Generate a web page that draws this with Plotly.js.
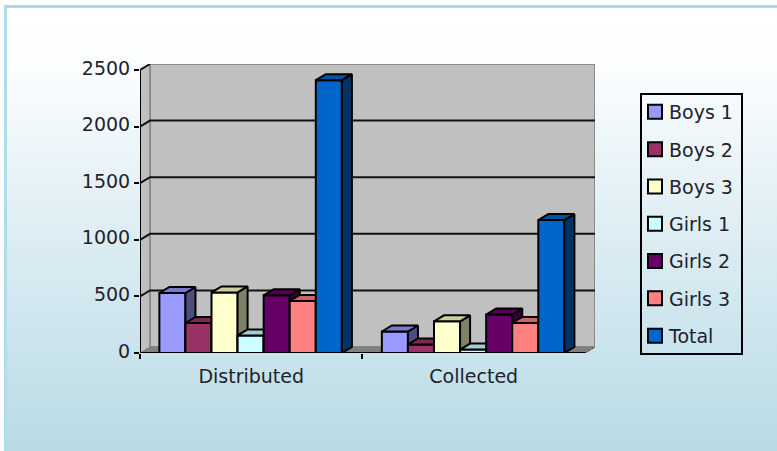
<!DOCTYPE html>
<html><head><meta charset="utf-8">
<script src="https://cdn.plot.ly/plotly-3.0.1.min.js"></script>
<style>
html,body{margin:0;padding:0;background:#fff;width:777px;height:451px;overflow:hidden}
#bg{position:absolute;left:4px;top:5px;width:773px;height:446px;box-sizing:border-box;border-top:3px solid #a8d9e6;border-left:3px solid #b0dde8;
background:linear-gradient(to bottom,#ffffff 0%,#fbfdfe 14%,#dcedf3 52%,#b9dbe6 100%)}
#chart{position:absolute;left:0;top:0;width:777px;height:451px}
</style></head><body>
<div id="bg"></div><div id="chart"></div>
<script>
const categories = ['Distributed','Collected'];
const seriesNames = ['Boys 1','Boys 2','Boys 3','Girls 1','Girls 2','Girls 3','Total'];
const boys1  = [530, 190];
const boys2  = [265, 75];
const boys3  = [535, 280];
const girls1 = [155, 30];
const girls2 = [510, 340];
const girls3 = [460, 265];
const total  = [2410, 1174];
const seriesValues = [boys1,boys2,boys3,girls1,girls2,girls3,total];
const front = ['#9999ff','#993366','#ffffcc','#ccffff','#660066','#ff8080','#0066cc'];
const tops  = ['#7a7acc','#7a2952','#cccca3','#a3cccc','#520052','#cc6666','#0052a3'];
const sides = ['#4d4d80','#4d1a33','#808066','#668080','#330033','#804040','#003366'];
const tickValues = [0,500,1000,1500,2000,2500];

const DX = 0.045, DY = 53, BW = 0.1172, START = -0.413;
const X0 = -0.5, X1 = 1.5, XE = X1 + DX, YE = 2500 + DY;
const pos = categories.map((c,i)=>i);
const traces = [];
function poly(xs,ys,fill,lineColor,lw,extra){
  return Object.assign({type:'scatter',mode:'lines',x:xs,y:ys,fill:fill?'toself':'none',fillcolor:fill||undefined,
    line:{color:lineColor,width:lw},showlegend:false,hoverinfo:'skip',cliponaxis:false},extra||{});
}
// walls and floor
traces.push(poly([X0,X0+DX,X0+DX,X0],[0,DY,YE,2500],'#c0c0c0','#c0c0c0',1));
traces.push(poly([X0+DX,XE,XE,X0+DX,X0+DX],[DY,DY,YE,YE,DY],'#c0c0c0','#8c8c8c',2));
traces.push(poly([X0,X0+DX,XE,X1],[0,DY,DY,0],'#808080','#808080',1));
// gridlines from tick values
tickValues.slice(1).forEach(v=>{
  traces.push(poly(v<2500?[X0,X0+DX,XE]:[X0,X0+DX],v<2500?[v,v+DY,v+DY]:[v,v+DY],null,'#111',2));
});
// axes lines
traces.push(poly([X0,X0],[0,2500],null,'#000',2));
traces.push(poly([X0,X1],[0,0],null,'#000',2));
traces.push(poly([X1,XE],[0,DY],null,'#000',1,{line:{color:'#333',width:1,dash:'2px,2px'}}));

// bars: each series has its own overlaid y axis so later bars paint over earlier faces
seriesNames.forEach((name,s)=>{
  const ya = 'y'+(s+2);
  const vals = seriesValues[s];
  const off = START + s*BW;
  const sx=[],sy=[],tx=[],ty=[];
  pos.forEach((p,i)=>{
    const l=p+off, r=l+BW, v=vals[i];
    sx.push(r,r+DX,r+DX,r,r,null); sy.push(0,DY,v+DY,v,0,null);
    tx.push(l,l+DX,r+DX,r,l,null); ty.push(v,v+DY,v+DY,v,v,null);
  });
  traces.push({type:'bar',name:name,x:pos,y:vals,yaxis:ya,width:BW,offset:off,legendgroup:name,
    marker:{color:front[s],line:{color:'#000',width:2}},hoverinfo:'x+y+name',cliponaxis:false});
  traces.push(poly(sx,sy,sides[s],'#000',2,{yaxis:ya,legendgroup:name}));
  traces.push(poly(tx,ty,tops[s],'#000',2,{yaxis:ya,legendgroup:name}));
});

const textFont = {family:'"DejaVu Sans",sans-serif',size:19,color:'#22222c'};
const layout = {
  width:777,height:451,autosize:false,
  margin:{l:140,r:182,t:64,b:98,pad:0},
  paper_bgcolor:'rgba(0,0,0,0)',plot_bgcolor:'rgba(0,0,0,0)',
  barmode:'overlay',showlegend:true,font:textFont,
  xaxis:{range:[X0,XE],tickmode:'array',tickvals:pos,ticktext:categories,ticks:'',showgrid:false,zeroline:false,showline:false,
    tickfont:textFont,ticklabelstandoff:10,
    minor:{tickmode:'array',tickvals:[X0,0.5],ticks:'outside',ticklen:5,tickwidth:2,tickcolor:'#000',showgrid:false}},
  yaxis:{range:[0,YE],tickmode:'array',tickvals:tickValues,ticks:'outside',ticklen:5,tickwidth:2,tickcolor:'#000',
    showgrid:false,zeroline:false,showline:false,tickfont:textFont,ticklabelstandoff:0,ticklabelshift:-2},
  legend:{x:(640-140)/455,xanchor:'left',y:1-(91-64)/289,yanchor:'top',bgcolor:'rgba(0,0,0,0)',bordercolor:'#000',borderwidth:2,
    tracegroupgap:9.6,font:textFont,itemclick:false,itemdoubleclick:false,entrywidth:51,entrywidthmode:'pixels'}
};
seriesNames.forEach((n,s)=>{
  layout['yaxis'+(s+2)]={range:[0,YE],overlaying:'y',visible:false,fixedrange:true};
});
Plotly.newPlot('chart',traces,layout,{displayModeBar:false}).then(()=>{
  // tighten the legend entries: swatch left and larger, text closer to it
  document.querySelectorAll('.legend .traces').forEach(tr=>{
    const layers = tr.querySelector('.layers');
    if(layers) layers.setAttribute('transform','translate(-7,0)');
    tr.querySelectorAll('.legendpoints path').forEach(p=>p.setAttribute('d','M7,7H-7V-7H7Z'));
    const t = tr.querySelector('.legendtext');
    if(t) t.setAttribute('x', parseFloat(t.getAttribute('x'))-13);
  });
  const bg = document.querySelector('.legend rect.bg');
  if(bg){ bg.setAttribute('y',3); bg.setAttribute('height',260); bg.setAttribute('width',101); }
});
</script></body></html>
